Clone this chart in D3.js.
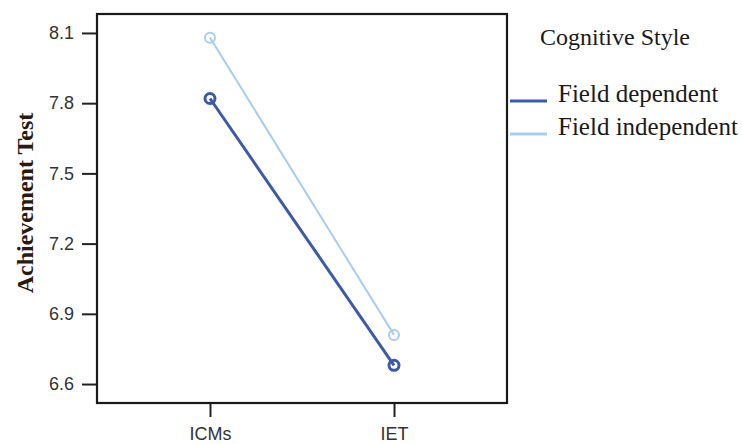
<!DOCTYPE html>
<html lang="en">
<head>
<meta charset="UTF-8">
<title>Achievement Test by Cognitive Style</title>
<script src="https://cdn.jsdelivr.net/npm/d3@7"></script>
<style>
    body { margin: 0; background: #fff; }
    .tick text { font-family: "Liberation Sans", Arial, sans-serif; fill: #333; }
    .serif { font-family: "Liberation Serif", "Times New Roman", serif; }
</style>
</head>
<body>
<div id="chart"></div>
<script>
    // data
    const groups = ["ICMs", "IET"];
    const styles = ["Field dependent", "Field independent"];
    const fieldDependent = [7.82, 6.68];
    const fieldIndependent = [8.08, 6.81];
    const yTicks = [6.6, 6.9, 7.2, 7.5, 7.8, 8.1];
    const colors = ["#3d5aa8", "#a9cdef"];

    const W = 742, H = 444;
    const plot = {left: 97, right: 507, top: 14, bottom: 403};

    const svg = d3.select("#chart").append("svg")
        .attr("width", W).attr("height", H);

    const x = d3.scalePoint(groups, [plot.left, plot.right]).padding(0.614);
    const y = d3.scaleLinear([6.519, 8.181], [plot.bottom, plot.top]);

    // y axis
    svg.append("g")
        .attr("transform", "translate(" + plot.left + ",0)")
        .call(d3.axisLeft(y).tickValues(yTicks).tickFormat(d3.format(".1f")).tickSize(15).tickPadding(8))
        .call(g => g.select(".domain").remove())
        .call(g => g.selectAll(".tick line").attr("stroke", "#222").attr("stroke-width", 2))
        .call(g => g.selectAll(".tick text").attr("font-size", 18));

    // x axis
    svg.append("g")
        .attr("transform", "translate(0," + plot.bottom + ")")
        .call(d3.axisBottom(x).tickSize(14).tickPadding(10))
        .call(g => g.select(".domain").remove())
        .call(g => g.selectAll(".tick line").attr("stroke", "#222").attr("stroke-width", 2))
        .call(g => g.selectAll(".tick text").attr("font-size", 18));

    // frame
    svg.append("rect")
        .attr("x", plot.left).attr("y", plot.top)
        .attr("width", plot.right - plot.left).attr("height", plot.bottom - plot.top)
        .attr("fill", "none").attr("stroke", "#1a1a1a").attr("stroke-width", 2.2);

    const series = [fieldDependent, fieldIndependent];
    const widths = [3, 2];

    // draw the light one first so the dark one sits on top
    [1, 0].forEach(i => {
        const pts = groups.map((g, j) => ({g: g, v: series[i][j]}));
        svg.append("path")
            .datum(pts)
            .attr("fill", "none")
            .attr("stroke", colors[i])
            .attr("stroke-width", widths[i])
            .attr("d", d3.line().x(d => x(d.g)).y(d => y(d.v)));
        svg.append("g")
            .selectAll("circle")
            .data(pts)
            .enter()
            .append("circle")
            .attr("cx", d => x(d.g))
            .attr("cy", d => y(d.v))
            .attr("r", 5)
            .attr("fill", "none")
            .attr("stroke", colors[i])
            .attr("stroke-width", i === 0 ? 3 : 2);
    });

    // y title
    svg.append("text")
        .attr("class", "serif")
        .attr("transform", "translate(33,203) rotate(-90)")
        .attr("text-anchor", "middle")
        .attr("font-size", 24)
        .attr("font-weight", "bold")
        .attr("fill", "#2a1a10")
        .text("Achievement Test");

    // legend
    svg.append("text")
        .attr("class", "serif")
        .attr("x", 540).attr("y", 45)
        .attr("font-size", 24)
        .attr("fill", "#1a1a1a")
        .text("Cognitive Style");

    const leg = svg.append("g")
        .selectAll("g")
        .data(styles)
        .enter()
        .append("g")
        .attr("transform", (d, i) => "translate(0," + (101 + i * 33) + ")");
    leg.append("line")
        .attr("x1", 510).attr("x2", 547)
        .attr("stroke", (d, i) => colors[i])
        .attr("stroke-width", 3);
    leg.append("text")
        .attr("class", "serif")
        .attr("x", 558).attr("y", 1)
        .attr("font-size", 25)
        .attr("fill", "#1a1a1a")
        .text(d => d);
</script>
</body>
</html>
